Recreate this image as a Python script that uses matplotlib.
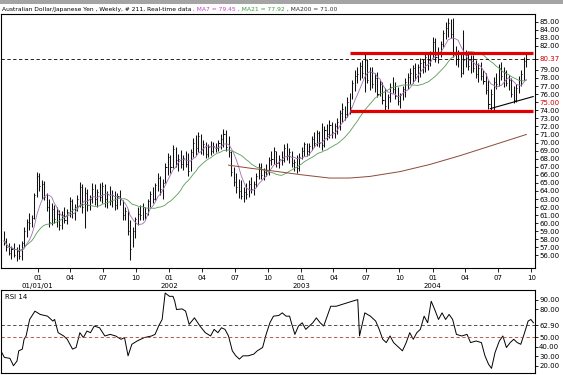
import numpy as np
import pandas as pd
import matplotlib
matplotlib.use("Agg")
import matplotlib.pyplot as plt
from matplotlib.patches import Rectangle

# weekly AUD/JPY bars
first_week = "2000-09-29"
highs = [
    59.0, 58.2, 57.6, 57.2, 57.5, 57.0, 57.4, 57.8, 59.5, 60.5,
    61.3, 61.0, 63.8, 66.4, 66.2, 65.4, 65.2, 63.7, 63.0, 62.5,
    62.3, 62.0, 61.6, 61.5, 62.0, 61.8, 63.2, 63.0, 62.4, 63.5,
    65.1, 64.8, 64.5, 64.2, 63.5, 65.0, 64.8, 64.3, 65.0, 65.1,
    64.9, 64.0, 64.6, 64.1, 64.0, 63.8, 64.1, 62.9, 62.0, 61.8,
    60.4, 59.5, 60.8, 62.0, 62.3, 62.5, 62.0, 63.0, 64.0, 64.5,
    65.0, 66.2, 65.8, 65.5, 67.5, 68.7, 68.5, 69.7, 69.5, 68.6,
    69.1, 68.5, 68.9, 68.7, 69.2, 70.5, 70.9, 71.3, 71.0, 70.3,
    70.1, 69.8, 70.2, 70.1, 69.9, 70.3, 71.0, 71.7, 71.5, 70.8,
    69.0, 67.0, 66.2, 65.5, 65.4, 64.5, 65.0, 65.4, 65.7, 65.2,
    66.2, 67.5, 67.5, 66.8, 67.4, 68.2, 69.0, 69.4, 68.9, 68.4,
    69.0, 69.8, 69.9, 69.3, 69.0, 68.0, 68.4, 68.7, 69.5, 70.1,
    70.0, 70.0, 70.8, 71.3, 71.6, 71.4, 72.4, 72.0, 72.3, 72.8,
    72.6, 72.4, 73.0, 74.0, 74.9, 74.5, 75.6, 76.1, 77.8, 79.0,
    79.4, 80.0, 80.2, 81.1, 80.4, 79.4, 79.3, 78.6, 78.7, 77.8,
    77.5, 76.8, 76.0, 77.4, 78.1, 77.5, 76.9, 76.2, 77.0, 78.0,
    78.6, 79.2, 79.6, 79.9, 79.7, 80.5, 80.3, 81.1, 81.0, 81.4,
    83.1, 83.0, 81.8, 82.6, 84.0, 85.0, 85.4, 85.3, 85.4, 82.0,
    81.5, 81.2, 84.0, 81.5, 81.3, 80.9, 80.8, 80.2, 79.8, 80.0,
    79.0, 78.6, 77.8, 76.6, 78.1, 78.6, 79.7, 80.0, 79.3, 79.0,
    78.4, 78.0, 77.0, 77.2, 78.2, 79.0, 80.6, 81.1,
]
lows = [
    57.3, 56.6, 56.0, 55.6, 55.8, 55.3, 55.6, 55.5, 57.0, 58.3,
    59.2, 59.5, 60.5, 63.3, 64.0, 63.0, 62.9, 61.5, 59.5, 59.8,
    60.0, 59.5, 59.2, 59.3, 60.0, 59.9, 60.8, 60.6, 60.4, 61.5,
    62.0, 61.3, 59.4, 61.5, 61.6, 62.5, 62.2, 62.0, 62.8, 62.5,
    62.0, 61.9, 62.3, 62.0, 61.6, 61.8, 62.3, 60.4, 60.4, 58.5,
    55.5, 57.0, 58.2, 59.8, 60.4, 60.4, 60.5, 61.0, 62.0, 62.5,
    62.9, 64.0, 63.5, 63.0, 65.0, 66.0, 66.2, 66.8, 67.0, 66.5,
    66.8, 66.6, 67.0, 65.9, 66.5, 68.2, 68.5, 68.8, 68.6, 68.4,
    68.1, 68.2, 68.5, 68.7, 68.8, 68.9, 69.2, 69.5, 68.9, 68.2,
    65.8, 64.6, 63.8, 63.1, 63.0, 62.6, 63.0, 63.3, 63.8, 63.5,
    64.5, 65.5, 65.5, 65.4, 65.8, 66.0, 67.2, 67.3, 67.0, 66.9,
    67.2, 67.6, 67.8, 67.5, 67.0, 66.5, 66.2, 66.5, 67.9, 68.3,
    68.3, 68.5, 69.1, 69.5, 69.6, 69.4, 69.1, 69.5, 70.3, 70.6,
    70.5, 70.6, 71.0, 71.6, 72.6, 72.8, 73.2, 73.5, 75.4, 76.4,
    77.4, 77.8, 78.0, 76.3, 77.4, 76.5, 76.8, 76.3, 75.6, 75.8,
    74.8, 73.8, 74.2, 75.0, 76.1, 75.4, 74.6, 74.3, 75.3, 75.6,
    76.6, 77.2, 77.4, 77.8, 77.5, 78.1, 78.6, 78.8, 79.0, 79.5,
    80.5, 80.0, 79.9, 80.6, 81.8, 82.8, 83.1, 83.0, 80.6, 79.6,
    79.4, 78.1, 78.5, 79.3, 79.0, 78.6, 78.8, 78.0, 77.5, 77.8,
    77.2, 76.0, 74.2, 74.0, 74.0, 76.6, 77.0, 77.8, 76.9, 77.0,
    76.5, 75.6, 74.9, 75.0, 76.2, 77.0, 77.7, 79.4,
]
closes = [
    57.8, 57.0, 56.3, 56.8, 56.0, 56.5, 55.9, 57.5, 59.0, 60.2,
    60.0, 60.7, 63.5, 65.8, 64.6, 64.8, 63.3, 62.0, 60.2, 61.8,
    60.5, 61.2, 59.8, 61.0, 60.4, 61.4, 62.8, 61.3, 62.0, 63.0,
    64.5, 62.0, 63.8, 62.3, 63.0, 64.3, 63.0, 63.9, 63.2, 64.6,
    63.0, 63.6, 62.8, 63.5, 62.2, 63.4, 63.0, 61.0, 61.5, 59.0,
    56.8, 59.0, 60.5, 61.2, 61.0, 62.0, 61.3, 62.8, 63.6, 63.0,
    64.7, 65.6, 64.2, 65.0, 67.0, 68.2, 67.0, 69.2, 67.8, 68.0,
    67.3, 68.1, 67.4, 66.5, 68.8, 70.0, 69.3, 70.8, 69.2, 69.8,
    68.6, 69.4, 69.0, 69.6, 69.3, 70.0, 70.4, 71.0, 69.4, 68.8,
    66.3, 65.1, 64.5, 64.0, 63.4, 63.9, 63.6, 64.8, 64.3, 64.9,
    65.8, 67.0, 66.0, 66.3, 66.6, 67.8, 68.0, 68.9, 67.5, 68.0,
    67.8, 69.3, 68.3, 68.8, 67.5, 67.6, 66.8, 68.2, 69.0, 69.8,
    68.9, 69.6, 70.4, 70.0, 71.2, 70.0, 69.7, 71.6, 71.0, 72.2,
    71.3, 72.0, 72.5, 73.6, 74.2, 73.5, 75.0, 74.4, 77.4, 78.2,
    78.5, 79.5, 78.6, 80.2, 77.8, 78.7, 77.3, 78.0, 76.0, 77.2,
    75.3, 74.5, 75.6, 76.9, 76.6, 75.8, 75.1, 75.9, 76.6, 77.5,
    78.1, 78.6, 79.2, 78.5, 79.3, 79.8, 80.0, 80.6, 80.2, 81.0,
    82.5, 80.6, 81.2, 82.2, 83.6, 84.2, 84.8, 83.5, 81.2, 80.4,
    81.0, 78.6, 80.2, 80.8, 79.5, 80.4, 79.2, 78.5, 79.2, 78.2,
    77.6, 76.5, 74.8, 76.0, 77.5, 77.2, 79.2, 78.3, 78.8, 77.4,
    77.8, 76.0, 75.3, 76.8, 77.8, 78.5, 80.1, 80.37,
]

# MA200 as drawn by the chart (needs more history than the visible bars)
ma200_weeks = [89, 98, 106, 118, 129, 137, 145, 157, 169, 181, 193, 207]
ma200_values = [67.2, 66.8, 66.5, 66.0, 65.6, 65.6, 65.8, 66.4, 67.3, 68.4, 69.6, 71.0]

# RSI 14 (position in weeks from the first bar)
rsi_weeks = [
    -1.2, 0.2, 2.4, 3.8, 5.2, 5.9, 7.3, 8.0, 8.8, 10.2,
    12.3, 14.4, 17.3, 19.4, 20.1, 21.5, 23.7, 25.1, 27.2, 28.6,
    30.1, 31.5, 32.9, 34.3, 35.8, 37.9, 40.0, 42.1, 44.3, 46.4,
    47.8, 49.2, 50.7, 52.8, 55.6, 58.5, 59.9, 61.3, 62.7, 63.9,
    65.6, 67.0, 67.7, 68.4, 70.6, 72.0, 73.4, 75.5, 77.7, 79.8,
    81.9, 83.3, 84.8, 86.2, 87.6, 89.0, 90.5, 91.9, 93.3, 94.7,
    96.8, 99.0, 100.4, 102.5, 103.9, 105.4, 106.8, 108.9, 110.3, 111.8,
    113.2, 113.9, 115.3, 116.7, 118.2, 119.6, 121.0, 122.4, 123.8, 125.3,
    126.7, 128.1, 129.5, 131.7, 133.8, 135.9, 138.0, 140.2, 140.9, 143.0,
    145.2, 147.3, 148.7, 150.1, 151.5, 153.0, 154.4, 156.5, 157.9, 159.4,
    160.8, 162.2, 163.6, 165.0, 166.5, 167.9, 169.3, 170.7, 172.2, 173.6,
    175.0, 176.4, 177.8, 179.3, 181.4, 183.5, 184.9, 187.1, 189.2, 190.6,
    192.0, 193.2, 194.6, 196.3, 197.7, 199.1, 200.6, 202.0, 203.4, 204.8,
    206.3, 207.7, 208.8, 209.8,
]
rsi_values = [
    35.8, 28.8, 27.8, 20.0, 25.0, 35.8, 37.6, 48.0, 51.5, 69.0,
    77.8, 74.3, 72.5, 67.3, 69.0, 55.0, 51.5, 48.0, 37.6, 39.3,
    55.0, 49.8, 56.7, 55.0, 62.0, 60.2, 51.5, 53.2, 51.5, 48.0,
    49.8, 30.5, 42.7, 46.2, 49.8, 51.5, 53.2, 62.0, 69.0, 97.0,
    93.5, 93.5, 88.3, 79.5, 80.2, 77.8, 63.8, 70.7, 62.0, 55.0,
    51.5, 58.5, 55.0, 60.2, 58.5, 51.5, 35.8, 30.5, 27.0, 30.5,
    30.5, 32.3, 35.8, 39.3, 53.2, 65.5, 72.5, 73.2, 76.0, 72.5,
    72.5, 65.5, 53.2, 62.0, 65.5, 58.5, 62.0, 65.5, 70.7, 65.5,
    62.0, 72.5, 83.0, 83.0, 84.8, 86.5, 88.3, 90.0, 51.5, 76.0,
    72.5, 67.3, 58.5, 48.0, 44.5, 51.5, 44.5, 39.3, 35.8, 44.5,
    55.0, 48.0, 55.0, 58.5, 72.5, 65.5, 88.3, 79.5, 69.0, 76.0,
    69.0, 74.3, 69.0, 53.2, 51.5, 53.2, 44.5, 46.2, 44.5, 30.5,
    21.7, 17.2, 34.0, 46.2, 51.5, 39.3, 44.5, 48.0, 44.5, 42.7,
    55.0, 67.3, 69.0, 65.5,
]

# hand-drawn annotations on the chart
resistance = 81.1
support = 73.9
channel_dates = ["2003-05-17", "2004-10-06"]
trend_dates = ["2004-06-09", "2004-10-06"]
trend_values = [74.2, 75.7]
last_price = 80.37

price_ticks = [p for p in range(56, 86) if p not in (80, 81)]
red_price_ticks = [75]
rsi_ticks = [90, 80, 62.9, 50, 40, 30, 20]
quarter_labels = {1: "01", 4: "04", 7: "07", 10: "10"}
year_labels = {2001: "01/01/01", 2002: "2002", 2003: "2003", 2004: "2004"}

title_parts = [
    ("Australian Dollar/Japanese Yen , Weekly, # 211, Real-time data", "black"),
    (" , MA7 = 79.45", "#c040c0"),
    (" , MA21 = 77.92", "#3a9a3a"),
    (" , MA200 = 71.00", "#303030"),
]

plt.rcParams["font.family"] = "DejaVu Sans"

dates = pd.date_range(first_week, periods=len(closes), freq="7D")
close_s = pd.Series(closes, index=dates)
ma7 = close_s.rolling(7, min_periods=1).mean()
ma21 = close_s.rolling(21, min_periods=1).mean()
start = pd.Timestamp(first_week)
ma200_dates = start + pd.to_timedelta(np.array(ma200_weeks) * 7, unit="D")
rsi_dates = start + pd.to_timedelta(np.array(rsi_weeks) * 7, unit="D")

W, H = 563, 375
fig = plt.figure(figsize=(W / 100, H / 100), dpi=100)
fig.add_artist(Rectangle((0, 1 - 4 / H), 1, 4 / H, transform=fig.transFigure,
                         facecolor="#a4a4a4", edgecolor="none"))

ax = fig.add_axes([1 / W, 1 - 268 / H, 534 / W, 254 / H])
rsi_ax = fig.add_axes([1 / W, 1 - 373 / H, 534 / W, 83 / H], sharex=ax)

# price bars
ax.vlines(dates, lows, highs, color="#111111", lw=0.75)
ax.hlines(closes, dates, dates + pd.Timedelta(days=3), color="#111111", lw=0.7)
ax.plot(dates, ma21, color="#5a9a5a", lw=0.6)
ax.plot(dates, ma7, color="#a070b0", lw=0.6)
ax.plot(ma200_dates, ma200_values, color="#8a4a3a", lw=0.7)

ax.axhline(last_price, color="black", lw=0.6, ls=(0, (4, 3)))
ch = pd.to_datetime(channel_dates)
ax.hlines([resistance, support], ch[0], ch[1], color="#e00000", lw=2.3)
ax.plot(pd.to_datetime(trend_dates), trend_values, color="black", lw=0.8)

ax.set_ylim(54.45, 85.93)
ax.set_xlim(pd.Timestamp("2000-09-21"), pd.Timestamp("2004-10-11"))

ax.yaxis.tick_right()
yt = price_ticks + [last_price]
ax.set_yticks(yt)
ax.set_yticklabels([f"{v:.2f}" for v in yt])
for lab, v in zip(ax.get_yticklabels(), yt):
    if v == last_price or v in red_price_ticks:
        lab.set_color("#cc0000")
ax.tick_params(axis="y", labelsize=5, length=2, pad=1, width=0.6)

qdates, qlabels = [], []
for y in range(2001, 2005):
    for m, q in quarter_labels.items():
        qdates.append(pd.Timestamp(year=y, month=m, day=1))
        qlabels.append(q + ("\n" + year_labels[y] if m == 1 else ""))
ax.set_xticks(qdates)
ax.set_xticklabels(qlabels, fontsize=5, linespacing=1.5, va="top")
ax.tick_params(axis="x", length=3, pad=2, width=0.6)

# RSI panel
rsi_ax.plot(rsi_dates, rsi_values, color="black", lw=0.7)
rsi_ax.axhline(62.9, color="#333333", lw=0.6, ls=(0, (4, 3)))
rsi_ax.axhline(50, color="#b04030", lw=0.6, ls=(0, (4, 3)))
rsi_ax.set_ylim(12.3, 100.2)
rsi_ax.yaxis.tick_right()
rsi_ax.set_yticks(rsi_ticks)
rsi_ax.set_yticklabels([f"{v:.2f}" for v in rsi_ticks])
rsi_ax.tick_params(axis="y", labelsize=5, length=2, pad=1, width=0.6)
rsi_ax.tick_params(axis="x", bottom=False, labelbottom=False)
rsi_ax.text(0.008, 0.95, "RSI 14", transform=rsi_ax.transAxes, fontsize=5,
            va="top", ha="left")

for a in (ax, rsi_ax):
    for s in a.spines.values():
        s.set_linewidth(0.8)

# coloured title line, pieces chained one after another
prev = fig.text(2 / W, 1 - 12 / H, title_parts[0][0], color=title_parts[0][1],
                fontsize=4.3, va="bottom", ha="left")
for txt, col in title_parts[1:]:
    prev = ax.annotate(txt, xy=(1, 0), xycoords=prev, color=col, fontsize=4.3,
                       va="bottom", ha="left", annotation_clip=False)

fig.savefig("out.png", dpi=100)
